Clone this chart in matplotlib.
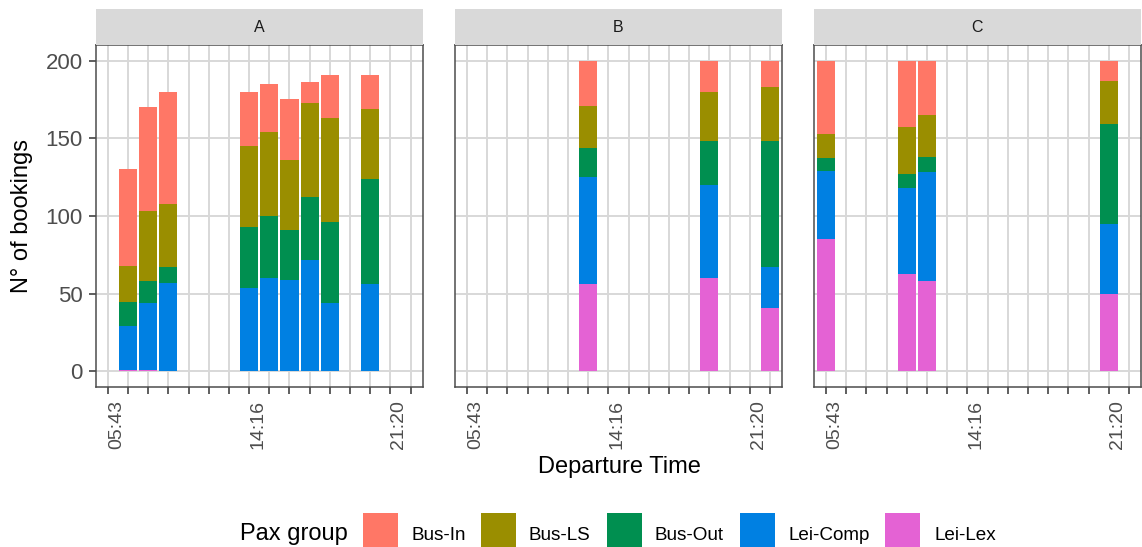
import matplotlib
matplotlib.use('Agg')
import matplotlib.pyplot as plt
from matplotlib.patches import Rectangle

plt.rcParams['font.family'] = ['Liberation Sans', 'DejaVu Sans']

# ---------------- data ----------------
groups = ['Bus-In', 'Bus-LS', 'Bus-Out', 'Lei-Comp', 'Lei-Lex']
group_colors = ['#FF7766', '#9A8E00', '#008F50', '#0080E2', '#E462D4']
panels = ['A', 'B', 'C']
slot_labels = ['05:43', '', '', '', '', '', '', '14:16', '', '', '', '', '', '', '21:20', '']
y_ticks = [0, 50, 100, 150, 200]

A_slots = [1, 2, 3, 7, 8, 9, 10, 11, 13]
A_bus_in = [62, 67, 72, 35, 31, 39, 13, 28, 22]
A_bus_ls = [23, 45, 41, 52, 54, 45, 61, 67, 45]
A_bus_out = [16, 14, 10, 39, 40, 32, 40, 52, 68]
A_lei_comp = [28, 43, 57, 54, 60, 59, 72, 44, 56]
A_lei_lex = [1, 1, 0, 0, 0, 0, 0, 0, 0]

B_slots = [6, 12, 15]
B_bus_in = [29, 20, 17]
B_bus_ls = [27, 32, 35]
B_bus_out = [19, 28, 81]
B_lei_comp = [69, 60, 26]
B_lei_lex = [56, 60, 41]

C_slots = [0, 4, 5, 14]
C_bus_in = [47, 43, 35, 13]
C_bus_ls = [16, 30, 27, 28]
C_bus_out = [8, 9, 10, 64]
C_lei_comp = [44, 55, 70, 45]
C_lei_lex = [85, 63, 58, 50]

panel_data = {
    'A': (A_slots, [A_bus_in, A_bus_ls, A_bus_out, A_lei_comp, A_lei_lex]),
    'B': (B_slots, [B_bus_in, B_bus_ls, B_bus_out, B_lei_comp, B_lei_lex]),
    'C': (C_slots, [C_bus_in, C_bus_ls, C_bus_out, C_lei_comp, C_lei_lex]),
}

# ---------------- layout ----------------
W, H = 1142, 547
fig = plt.figure(figsize=(W / 100, H / 100), dpi=100)
fig.patch.set_facecolor('white')

panel_lefts = [95.7, 455.0, 814.0]
panel_w = 327.0
panel_top, panel_bot = 45.0, 387.0
strip_top = 9.3

def fx(px):
    return px / W

def fy(py):
    return 1 - py / H

grid_col = '#D8D8D8'
border_col = '#4D4D4D'
tick_txt_col = '#4D4D4D'

for k, (pname, left) in enumerate(zip(panels, panel_lefts)):
    ax = fig.add_axes([fx(left), fy(panel_bot), fx(panel_w), (panel_bot - panel_top) / H])
    slots, vals = panel_data[pname]
    # stack bottom-up: Lei-Lex first, Bus-In on top
    bottoms = [0] * len(slots)
    for gi in reversed(range(len(groups))):
        ax.bar(slots, vals[gi], width=0.9, bottom=bottoms, color=group_colors[gi],
               linewidth=0, zorder=3)
        bottoms = [b + v for b, v in zip(bottoms, vals[gi])]

    ax.set_xlim(-0.6, len(slot_labels) - 1 + 0.6)
    ax.set_ylim(-10, 210)
    ax.set_axisbelow(True)
    ax.set_xticks(range(len(slot_labels)))
    ax.set_xticklabels(slot_labels, rotation=90, ha='left', va='top',
                       fontsize=14, color=tick_txt_col)
    ax.set_yticks(y_ticks)
    ax.grid(True, which='major', color=grid_col, linewidth=1.4)
    ax.tick_params(axis='x', which='major', direction='out', length=5, width=1.1,
                   color='#333333', pad=4.3)
    if k == 0:
        ax.set_yticklabels([str(v) for v in y_ticks], fontsize=16, color=tick_txt_col)
        ax.tick_params(axis='y', which='major', direction='out', length=5, width=1.1,
                       color='#333333', pad=4.3)
    else:
        ax.tick_params(axis='y', which='major', length=0, labelleft=False)
    for sp in ax.spines.values():
        sp.set_color(border_col)
        sp.set_linewidth(1.1)
        sp.set_zorder(5)

    # facet strip
    sax = fig.add_axes([fx(left), fy(panel_top), fx(panel_w), (panel_top - strip_top) / H])
    sax.set_facecolor('#D9D9D9')
    sax.set_xticks([])
    sax.set_yticks([])
    for sp in sax.spines.values():
        sp.set_visible(False)
    sax.text(0.5, 0.5, pname, ha='center', va='center', fontsize=11.5, color='#1A1A1A',
             transform=sax.transAxes)

# axis titles
fig.text(fx(619), fy(472.5), 'Departure Time', ha='center', va='baseline', fontsize=17,
         color='black')
fig.text(fx(22), fy(216), 'N° of bookings', ha='center', va='center', rotation=90,
         fontsize=17, color='black')

# legend (bottom, horizontal)
fig.text(fx(240), fy(540), 'Pax group', ha='left', va='baseline', fontsize=17, color='black')
box_lefts = [362.7, 480.7, 606.7, 740.0, 885.0]
label_lefts = [411.5, 528.0, 654.0, 788.0, 934.0]
box_size = 35.0
box_top = 513.3
for gi, g in enumerate(groups):
    fig.patches.append(Rectangle((fx(box_lefts[gi]), fy(box_top + box_size)),
                                 fx(box_size), box_size / H, transform=fig.transFigure,
                                 facecolor=group_colors[gi], edgecolor='none'))
    fig.text(fx(label_lefts[gi]), fy(540.5), g, ha='left', va='baseline', fontsize=13.6,
             color='black')

fig.savefig('out.png', dpi=100, facecolor='white')
